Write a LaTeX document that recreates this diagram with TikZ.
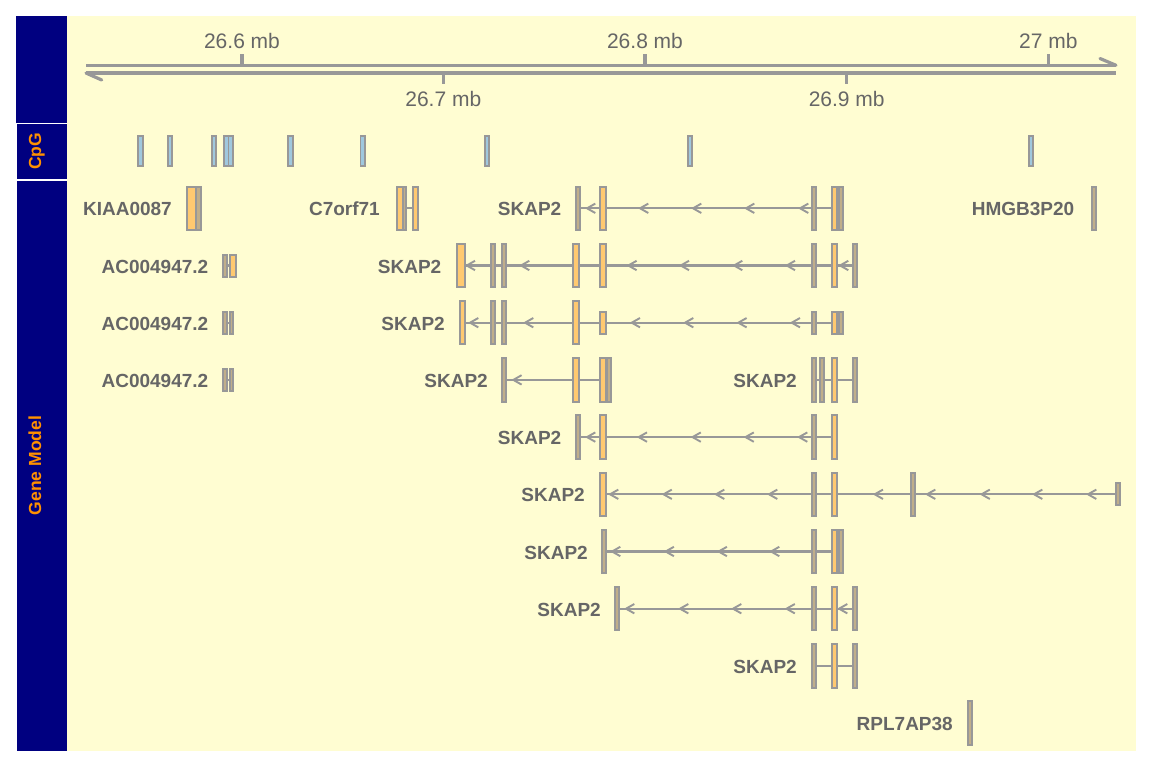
\documentclass[tikz,border=0pt]{standalone}
\usepackage{fontspec}
\setmainfont{Liberation Sans}
\definecolor{navyp}{RGB}{0,0,128}
\definecolor{panely}{RGB}{255,253,210}
\definecolor{lg}{RGB}{152,152,152}
\definecolor{txtg}{RGB}{102,102,102}
\definecolor{exo}{RGB}{255,201,112}
\definecolor{ext}{RGB}{192,174,138}
\definecolor{cpgb}{RGB}{160,200,222}
\definecolor{lblo}{RGB}{255,145,0}
\newcommand{\gexT}[4]{\draw[#1] (#2,{#4-21.7}) rectangle (#3,{#4+21.7});}
\newcommand{\gexS}[4]{\draw[#1] (#2,{#4-11}) rectangle (#3,{#4+11});}
\newcommand{\gchv}[2]{\draw[chev] ({#1+8.3},{#2-4.7}) -- (#1,#2) -- ({#1+8.3},{#2+4.7});}
\newcommand{\gint}[3]{\draw[intron] (#1,#3) -- (#2,#3);}
\newcommand{\gcpg}[2]{\draw[cpg] (#1,136) rectangle (#2,165.7);}
\def\rA{208.3}\def\rB{265.5}\def\rC{322.7}\def\rD{379.9}\def\rE{437.1}
\def\rF{494.3}\def\rG{551.5}\def\rH{608.7}\def\rI{665.9}\def\rJ{723.1}
\begin{document}
\begin{tikzpicture}[x=1pt,y=-1pt,
  axisline/.style={draw=lg, line width=3.2pt},
  intron/.style={draw=lg, line width=2.1pt},
  chev/.style={draw=lg, line width=1.9pt},
  eo/.style={fill=exo, draw=lg, line width=2pt},
  et/.style={fill=ext, draw=lg, line width=2pt},
  cpg/.style={fill=cpgb, draw=lg, line width=1.9pt},
  glabel/.style={font=\fontsize{19}{21}\selectfont\bfseries, text=txtg, anchor=base east, inner sep=0pt},
  alabel/.style={font=\fontsize{21}{24}\selectfont, text=txtg, anchor=base, inner sep=0pt},
  plabel/.style={font=\fontsize{17.5}{19}\selectfont\bfseries, text=lblo, rotate=90, anchor=base, inner sep=0pt}]
\useasboundingbox (0,0) rectangle (1152,768);
\fill[white] (0,0) rectangle (1152,768);
% panels
\fill[panely] (66.7,16) rectangle (1136,751);
\fill[navyp] (16,16) rectangle (66.7,122.5);
\fill[navyp] (17,124) rectangle (66.7,178.5);
\fill[navyp] (17,181) rectangle (66.7,750.5);
\node[plabel] (tcpg) at (41,151.3) {CpG};
\node[plabel] (tgene) at (41,465.5) {Gene Model};
% axis
\draw[axisline] (86,65.3) -- (1116,65.3);
\draw[axisline] (86,73) -- (1116,73);
\draw[axisline,line cap=round] (86,73) -- (101.7,80);
\draw[axisline,line cap=round] (1100,58.5) -- (1116,65.3);
\draw[axisline] (242,54.3) -- (242,65.3);
\draw[axisline] (645,54.3) -- (645,65.3);
\draw[axisline] (1048.3,54.3) -- (1048.3,65.3);
\draw[axisline] (443.3,73) -- (443.3,84);
\draw[axisline] (846.7,73) -- (846.7,84);
\node[alabel] (a1) at (242,49) {26.6 mb};
\node[alabel] (a2) at (645,49) {26.8 mb};
\node[alabel] (a3) at (1048.3,49) {27 mb};
\node[alabel] (a4) at (443.3,106.7) {26.7 mb};
\node[alabel] (a5) at (846.7,106.7) {26.9 mb};
% CpG
\gcpg{138.3}{142.7}\gcpg{168}{172.3}\gcpg{211.7}{216}
\gcpg{224.3}{228.5}\gcpg{228.5}{232.7}
\gcpg{288.3}{292.7}\gcpg{360.5}{364.7}\gcpg{485}{489.3}
\gcpg{687.7}{692.3}\gcpg{1029.3}{1033.3}
% Row 1
\node[glabel] (l1a) at (172,{\rA+7.5}) {KIAA0087};
\gexT{eo}{186.7}{196.3}{\rA}\gexT{et}{196.3}{200.5}{\rA}
\node[glabel] (l1b) at (380,{\rA+7.5}) {C7orf71};
\gint{405}{414}{\rA}
\gexT{eo}{396.7}{402.5}{\rA}\gexT{et}{402.5}{405.7}{\rA}\gexT{eo}{413.3}{418.3}{\rA}
\node[glabel] (l1c) at (561.5,{\rA+7.5}) {SKAP2};
\gint{578}{840}{\rA}
\gchv{587}{\rA}\gchv{640}{\rA}\gchv{693}{\rA}\gchv{746}{\rA}\gchv{800}{\rA}
\gexT{et}{576}{580}{\rA}\gexT{eo}{600}{605.7}{\rA}\gexT{et}{811.7}{815.7}{\rA}
\gexT{eo}{832.3}{837.3}{\rA}\gexT{et}{838.7}{842.7}{\rA}
\node[glabel] (l1d) at (1074.5,{\rA+7.5}) {HMGB3P20};
\gexT{et}{1092}{1096}{\rA}
% Row 2
\node[glabel] (l2a) at (208.5,{\rB+7.5}) {AC004947.2};
\gint{225}{233}{\rB}
\gexS{et}{223.3}{226.7}{\rB}\gexS{eo}{229.7}{236}{\rB}
\node[glabel] (l2b) at (441.5,{\rB+7.5}) {SKAP2};
\gint{461}{855}{\rB}
\gchv{466.7}{\rB}\gchv{521}{\rB}\gchv{628.3}{\rB}\gchv{680.7}{\rB}\gchv{734}{\rB}\gchv{786.7}{\rB}\gchv{840}{\rB}
\gexT{eo}{456.7}{465}{\rB}\gexT{et}{491}{495}{\rB}\gexT{et}{501.7}{505.7}{\rB}
\gexT{eo}{573.3}{579}{\rB}\gexT{eo}{600}{605.7}{\rB}\gexT{et}{811.7}{815.7}{\rB}
\gexT{eo}{832.3}{837.3}{\rB}\gexT{et}{852.7}{856.7}{\rB}
% Row 3
\node[glabel] (l3a) at (208.5,{\rC+7.5}) {AC004947.2};
\gint{225}{232}{\rC}
\gexS{et}{223.3}{226.7}{\rC}\gexS{et}{229.7}{233.3}{\rC}
\node[glabel] (l3b) at (445,{\rC+7.5}) {SKAP2};
\gint{462}{841}{\rC}
\gchv{470}{\rC}\gchv{525}{\rC}\gchv{631.7}{\rC}\gchv{685}{\rC}\gchv{738.3}{\rC}\gchv{791.7}{\rC}
\gexT{eo}{460}{465}{\rC}\gexT{et}{491}{495}{\rC}\gexT{et}{501.7}{505.7}{\rC}
\gexT{eo}{573.3}{579}{\rC}\gexS{eo}{600}{605.7}{\rC}\gexS{et}{811.7}{815.7}{\rC}
\gexS{eo}{832.3}{837.3}{\rC}\gexS{et}{838.7}{842.7}{\rC}
% Row 4
\node[glabel] (l4a) at (208.5,{\rD+7.5}) {AC004947.2};
\gint{225}{232}{\rD}
\gexS{et}{223.3}{226.7}{\rD}\gexS{et}{229.7}{233.3}{\rD}
\node[glabel] (l4b) at (488,{\rD+7.5}) {SKAP2};
\gint{503}{609}{\rD}
\gchv{513.3}{\rD}
\gexT{et}{501.7}{505.7}{\rD}\gexT{eo}{573.3}{579}{\rD}\gexT{eo}{600}{605.7}{\rD}\gexT{et}{606.7}{610.7}{\rD}
\node[glabel] (l4c) at (797,{\rD+7.5}) {SKAP2};
\gint{814}{855}{\rD}
\gexT{et}{812.3}{816}{\rD}\gexT{et}{820}{823.7}{\rD}\gexT{eo}{832.3}{837.3}{\rD}\gexT{et}{853.3}{857.3}{\rD}
% Row 5
\node[glabel] (l5) at (561.5,{\rE+7.5}) {SKAP2};
\gint{578}{835}{\rE}
\gchv{587}{\rE}\gchv{638.7}{\rE}\gchv{692.5}{\rE}\gchv{745.5}{\rE}\gchv{799}{\rE}
\gexT{et}{576}{580}{\rE}\gexT{eo}{600}{605.7}{\rE}\gexT{et}{811.7}{815.7}{\rE}\gexT{eo}{832.3}{837.3}{\rE}
% Row 6
\node[glabel] (l6) at (585,{\rF+7.5}) {SKAP2};
\gint{603}{1118}{\rF}
\gchv{610}{\rF}\gchv{663.5}{\rF}\gchv{716}{\rF}\gchv{769}{\rF}\gchv{874.7}{\rF}
\gchv{927}{\rF}\gchv{981.5}{\rF}\gchv{1034}{\rF}\gchv{1088}{\rF}
\gexT{eo}{600}{605.7}{\rF}\gexT{et}{811.7}{815.7}{\rF}\gexT{eo}{832.3}{837.3}{\rF}
\gexT{et}{910.7}{914.7}{\rF}\gexS{et}{1115.5}{1119.5}{\rF}
% Row 7
\node[glabel] (l7) at (588,{\rG+7.5}) {SKAP2};
\gint{604}{840}{\rG}
\gchv{612}{\rG}\gchv{665.6}{\rG}\gchv{718.6}{\rG}\gchv{771}{\rG}
\gexT{et}{602}{606}{\rG}\gexT{et}{811.7}{815.7}{\rG}\gexT{eo}{832.3}{837.3}{\rG}\gexT{et}{838.7}{842.7}{\rG}
% Row 8
\node[glabel] (l8) at (601,{\rH+7.5}) {SKAP2};
\gint{617}{855}{\rH}
\gchv{626}{\rH}\gchv{680}{\rH}\gchv{733}{\rH}\gchv{786.5}{\rH}\gchv{839}{\rH}
\gexT{et}{615}{619}{\rH}\gexT{et}{811.7}{815.7}{\rH}\gexT{eo}{832.3}{837.3}{\rH}\gexT{et}{853.3}{857.3}{\rH}
% Row 9
\node[glabel] (l9) at (797,{\rI+7.5}) {SKAP2};
\gint{814}{855}{\rI}
\gexT{et}{811.7}{815.7}{\rI}\gexT{eo}{832.3}{837.3}{\rI}\gexT{et}{853.3}{857.3}{\rI}
% Row 10
\node[glabel] (l10) at (953,{\rJ+7.5}) {RPL7AP38};
\gexT{et}{968}{972}{\rJ}
\end{tikzpicture}
\end{document}
